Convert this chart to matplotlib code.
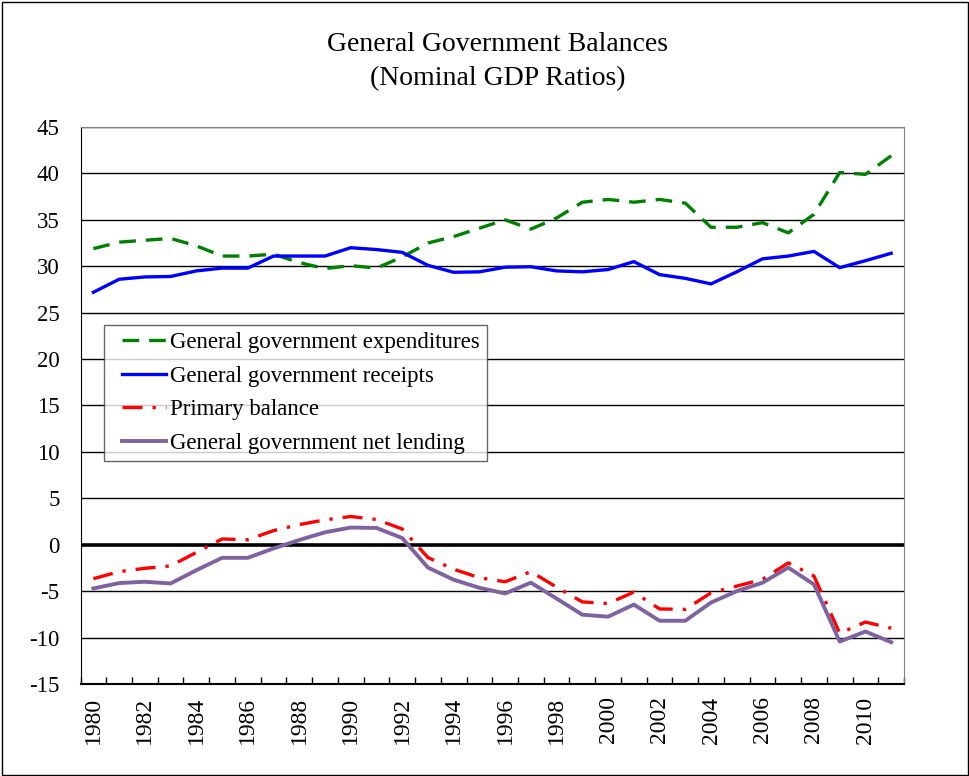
import numpy as np
import matplotlib
matplotlib.use("Agg")
import matplotlib.pyplot as plt
from matplotlib.patches import Rectangle
from matplotlib.lines import Line2D
from matplotlib.legend_handler import HandlerLine2D

plt.rcParams['font.family'] = ['Liberation Serif', 'DejaVu Serif']

years = list(range(1980, 2012))
expenditures = [31.9, 32.6, 32.8, 33.0, 32.2, 31.1, 31.1, 31.3, 30.4, 29.75,
                30.07, 29.8, 31.0, 32.5, 33.2, 34.1, 35.0, 34.0, 35.2, 36.9,
                37.2, 36.9, 37.2, 36.8, 34.2, 34.2, 34.7, 33.6, 35.6, 40.1,
                39.9, 41.9]
receipts = [27.2, 28.6, 28.85, 28.9, 29.5, 29.8, 29.8, 31.1, 31.1, 31.1,
            32.0, 31.8, 31.5, 30.1, 29.35, 29.4, 29.9, 29.95, 29.5, 29.4,
            29.65, 30.5, 29.1, 28.7, 28.1, 29.4, 30.8, 31.1, 31.6, 29.85,
            30.6, 31.4]
primary_balance = [-3.66, -2.9, -2.54, -2.28, -0.83, 0.62, 0.54, 1.52, 2.17, 2.68,
                   3.04, 2.72, 1.70, -1.38, -2.64, -3.55, -3.99, -2.9, -4.57, -6.16,
                   -6.34, -5.1, -6.92, -6.96, -5.18, -4.46, -3.73, -1.96, -3.37, -9.53,
                   -8.33, -8.99]
net_lending = [-4.71, -4.13, -3.99, -4.17, -2.75, -1.41, -1.41, -0.4, 0.51, 1.34,
               1.85, 1.81, 0.72, -2.46, -3.77, -4.64, -5.25, -4.09, -5.8, -7.54,
               -7.75, -6.45, -8.19, -8.19, -6.23, -5.0, -4.09, -2.46, -4.28, -10.43,
               -9.35, -10.5]
series_names = ["General government expenditures", "General government receipts",
                "Primary balance", "General government net lending"]
y_ticks = list(range(-15, 50, 5))

fig = plt.figure(figsize=(9.7, 7.76), dpi=100)
fig.patches.append(Rectangle((0.002, 0.001), 0.996, 0.997, transform=fig.transFigure,
                             fill=False, edgecolor='black', linewidth=1.0))
ax = fig.add_axes([0.083, 0.1186, 0.849, 0.7177])

x = np.arange(len(years))
for yv in y_ticks:
    if yv != 0:
        ax.axhline(yv, color='black', linewidth=1.0, zorder=1)
ax.axhline(0, color='black', linewidth=2.6, zorder=2)

ax.plot(x, expenditures, color='#008000', linewidth=2.4, dashes=(5, 3), label=series_names[0], zorder=3)
ax.plot(x, receipts, color='#0000FF', linewidth=2.4, label=series_names[1], zorder=3)
ax.plot(x, primary_balance, color='#FF0000', linewidth=2.4, dashes=(6, 3, 1, 3), label=series_names[2], zorder=3)
ax.plot(x, net_lending, color='#7F63A1', linewidth=2.8, label=series_names[3], zorder=3)

ax.set_xlim(-0.5, len(years) - 0.5)
ax.set_ylim(-15, 45)
ax.set_yticks(y_ticks)
ax.set_yticklabels([str(v) for v in y_ticks], fontsize=16.5)
ax.tick_params(axis='y', length=0, pad=15)

ax.set_xticks(np.arange(-0.5, len(years), 1))
ax.set_xticklabels([])
ax.tick_params(axis='x', which='major', direction='in', length=5, width=1)
ax.set_xticks(x[::2], minor=True)
ax.set_xticklabels([str(y) for y in years[::2]], minor=True, rotation=90, fontsize=17)
ax.tick_params(axis='x', which='minor', length=0, pad=9)

for s in ['top', 'right']:
    ax.spines[s].set_color('#808080')
ax.spines['left'].set_color('black')
ax.spines['bottom'].set_color('black')
ax.spines['bottom'].set_linewidth(1.5)

leg = ax.legend(loc='upper left', bbox_to_anchor=(0.0285, 0.6445), fontsize=16.5,
                frameon=True, fancybox=False, edgecolor='#404040', handlelength=2.4,
                borderpad=0.3, labelspacing=0.55, handletextpad=0.2,
                borderaxespad=0, handler_map={Line2D: HandlerLine2D(xpad=0.5)})
leg.get_frame().set_linewidth(1.0)

fig.text(0.513, 0.943, "General Government Balances", ha='center', va='center', fontsize=20)
fig.text(0.513, 0.899, "(Nominal GDP Ratios)", ha='center', va='center', fontsize=20)

fig.savefig("out.png", dpi=100)
